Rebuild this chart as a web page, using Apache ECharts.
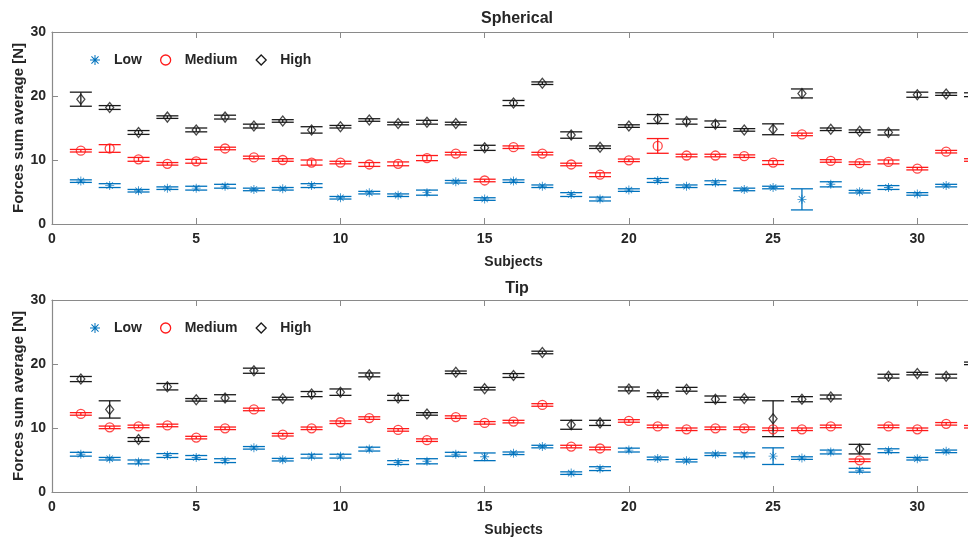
<!DOCTYPE html>
<html>
<head>
<meta charset="utf-8">
<script src="https://cdn.jsdelivr.net/npm/echarts@6/dist/echarts.min.js"></script>
<style>
  html, body { margin: 0; padding: 0; background: #fff; }
  #chart { width: 968px; height: 538px; }
</style>
</head>
<body>
<div id="chart"></div>
<script>
// subjects 1..32 (the last one is cut off by the right edge)
const subjects = [1,2,3,4,5,6,7,8,9,10,11,12,13,14,15,16,17,18,19,20,21,22,23,24,25,26,27,28,29,30,31,32];

// Spherical grasp
const sphLow  = [6.7,6.0,5.2,5.6,5.6,5.9,5.4,5.5,6.0,4.1,4.9,4.5,4.9,6.6,3.9,6.7,5.9,4.6,3.9,5.3,6.8,5.9,6.45,5.4,5.7,3.85,6.2,5.05,5.7,4.7,6.0,null];
const sphLowErr = [0.2,0.3,0.2,0.2,0.3,0.3,0.2,0.2,0.3,0.2,0.2,0.2,0.4,0.2,0.2,0.2,0.2,0.3,0.3,0.2,0.3,0.2,0.3,0.2,0.2,1.65,0.4,0.2,0.3,0.2,0.2,null];
const sphMed  = [11.45,11.8,10.1,9.4,9.8,11.8,10.4,10.0,9.6,9.6,9.3,9.4,10.3,11.0,6.8,12.0,11.0,9.3,7.7,9.95,12.2,10.7,10.7,10.6,9.6,14.0,9.85,9.5,9.7,8.65,11.3,10.0];
const sphMedErr = [0.2,0.6,0.3,0.2,0.3,0.2,0.2,0.2,0.4,0.2,0.3,0.3,0.4,0.2,0.2,0.2,0.2,0.2,0.3,0.2,1.15,0.2,0.2,0.2,0.3,0.2,0.2,0.2,0.3,0.2,0.2,0.2];
const sphHigh = [19.5,18.2,14.3,16.7,14.7,16.7,15.3,16.1,14.7,15.2,16.25,15.7,15.9,15.7,11.9,18.9,22.0,13.9,12.0,15.3,16.4,16.0,15.6,14.7,14.8,20.4,14.8,14.5,14.3,20.2,20.3,20.2];
const sphHighErr = [1.1,0.3,0.3,0.2,0.3,0.3,0.3,0.2,0.5,0.2,0.2,0.2,0.3,0.2,0.4,0.4,0.2,0.5,0.2,0.2,0.7,0.4,0.5,0.2,0.85,0.7,0.2,0.2,0.4,0.4,0.2,0.3];

// Tip grasp
const tipLow  = [5.9,5.2,4.7,5.7,5.4,4.9,6.9,5.05,5.6,5.6,6.7,4.6,4.8,5.9,5.5,6.05,7.1,2.95,3.65,6.55,5.25,4.9,5.9,5.8,5.6,5.3,6.25,3.4,6.45,5.2,6.35,null];
const tipLowErr = [0.3,0.2,0.3,0.3,0.3,0.3,0.2,0.2,0.3,0.3,0.3,0.3,0.4,0.3,0.6,0.2,0.2,0.2,0.3,0.3,0.2,0.2,0.2,0.3,1.3,0.2,0.3,0.3,0.3,0.2,0.2,null];
const tipMed  = [12.2,10.1,10.25,10.4,8.5,9.95,12.9,8.95,9.95,10.9,11.55,9.7,8.1,11.7,10.8,11.0,13.6,7.1,6.8,11.1,10.25,9.8,9.95,9.95,9.8,9.8,10.25,4.95,10.25,9.8,10.65,10.2];
const tipMedErr = [0.2,0.2,0.2,0.2,0.2,0.2,0.2,0.2,0.2,0.2,0.2,0.2,0.2,0.2,0.2,0.2,0.2,0.2,0.2,0.2,0.2,0.2,0.2,0.2,0.2,0.2,0.2,0.2,0.2,0.2,0.2,0.2];
const tipHigh = [17.65,12.9,8.2,16.45,14.4,14.7,18.95,14.6,15.3,15.6,18.3,14.7,12.2,18.7,16.15,18.2,21.8,10.5,10.8,16.1,15.2,16.05,14.5,14.6,11.45,14.5,14.85,6.7,18.1,18.5,18.1,20.1];
const tipHighErr = [0.4,1.35,0.3,0.5,0.2,0.5,0.4,0.2,0.4,0.5,0.3,0.4,0.2,0.2,0.2,0.3,0.2,0.7,0.4,0.3,0.3,0.3,0.5,0.2,2.8,0.4,0.3,0.75,0.3,0.2,0.3,0.2];

const groups = ['Low', 'Medium', 'High'];
const colors = { Low: '#0072BD', Medium: '#FF1A1A', High: '#1a1a1a' };
const asterisk = 'path://M4.5 0L5.5 0L5.5 10L4.5 10Z M0 4.5L10 4.5L10 5.5L0 5.5Z M1.1 1.8L1.8 1.1L8.9 8.2L8.2 8.9Z M8.2 1.1L8.9 1.8L1.8 8.9L1.1 8.2Z';
const symbols = { Low: asterisk, Medium: 'circle', High: 'diamond' };
const sizes = { Low: [9, 9], Medium: [9, 9], High: [8, 10] };

const font = 'Liberation Sans, Arial, sans-serif';
const textColor = '#262626';
const axisGray = '#8a8a8a';

function pairs(means, errs) {
  return subjects.map((s, i) => means[i] == null ? [s, null, null] : [s, means[i], errs[i]]);
}

function errorRender(color) {
  return function (params, api) {
    const x = api.value(0), y = api.value(1), e = api.value(2);
    if (y == null || isNaN(y)) return;
    const top = api.coord([x, y + e]);
    const bot = api.coord([x, y - e]);
    const hw = 11;
    const style = { stroke: color, lineWidth: 1.3 };
    return {
      type: 'group',
      children: [
        { type: 'line', shape: { x1: top[0], y1: top[1], x2: bot[0], y2: bot[1] }, style: style },
        { type: 'line', shape: { x1: top[0] - hw, y1: top[1], x2: top[0] + hw, y2: top[1] }, style: style },
        { type: 'line', shape: { x1: bot[0] - hw, y1: bot[1], x2: bot[0] + hw, y2: bot[1] }, style: style }
      ]
    };
  };
}

function seriesFor(gridIdx, name, means, errs) {
  const c = colors[name];
  return [
    {
      name: name, type: 'custom', xAxisIndex: gridIdx * 2, yAxisIndex: gridIdx,
      renderItem: errorRender(c), data: pairs(means, errs), silent: true, z: 2
    },
    {
      name: name, type: 'scatter', xAxisIndex: gridIdx * 2, yAxisIndex: gridIdx,
      symbol: symbols[name], symbolSize: sizes[name],
      itemStyle: name === 'Low'
        ? { color: c }
        : { color: 'rgba(255,255,255,0)', borderColor: c, borderWidth: 1.3 },
      data: pairs(means, errs).map(p => [p[0], p[1]]), z: 3
    }
  ];
}

// the figure is cropped on the right: x = 32 lies just past the canvas edge
const grids = [
  { left: 52, right: -7, top: 32, height: 192, outerBoundsMode: 'none', containLabel: false },
  { left: 52, right: -7, top: 300, height: 192, outerBoundsMode: 'none', containLabel: false }
];

const xAxes = [];
const yAxes = [];
grids.forEach((g, i) => {
  xAxes.push({
    type: 'value', gridIndex: i, min: 0, max: 32, interval: 5,
    name: 'Subjects', nameLocation: 'middle', nameGap: 31, nameMoveOverlap: false,
    nameTextStyle: { fontFamily: font, fontWeight: 'bold', fontSize: 14, color: textColor },
    axisLine: { show: true, lineStyle: { color: axisGray, width: 1.2 } },
    axisTick: { show: true, inside: true, length: 6, lineStyle: { color: axisGray } },
    axisLabel: {
      margin: 8, fontFamily: font, fontWeight: 'bold', fontSize: 14, color: textColor,
      formatter: v => (v % 5 === 0 ? String(v) : '')
    },
    splitLine: { show: false }
  });
  xAxes.push({
    type: 'value', gridIndex: i, position: 'top', min: 0, max: 32, interval: 5,
    axisLine: { show: true, lineStyle: { color: axisGray, width: 1.2 } },
    axisTick: { show: true, inside: true, length: 6, lineStyle: { color: axisGray } },
    axisLabel: { show: false },
    splitLine: { show: false }
  });
  yAxes.push({
    type: 'value', gridIndex: i, min: 0, max: 30, interval: 10,
    name: 'Forces sum average [N]', nameLocation: 'middle', nameGap: 26, nameMoveOverlap: false,
    nameTextStyle: { fontFamily: font, fontWeight: 'bold', fontSize: 15, color: textColor },
    axisLine: { show: true, lineStyle: { color: axisGray, width: 1.2 } },
    axisTick: { show: true, inside: true, length: 6, lineStyle: { color: axisGray } },
    axisLabel: { margin: 6, fontFamily: font, fontWeight: 'bold', fontSize: 14, color: textColor },
    splitLine: { show: false }
  });
});

const legendData = groups.map(n => ({
  name: n,
  icon: symbols[n],
  itemStyle: n === 'Low'
    ? { color: colors[n] }
    : { color: 'rgba(255,255,255,0)', borderColor: colors[n], borderWidth: 1.3 }
}));

function legendAt(top) {
  return {
    data: legendData, left: 85, top: top, orient: 'horizontal',
    itemWidth: 10, itemHeight: 10, itemGap: 18,
    selectedMode: false,
    textStyle: { fontFamily: font, fontWeight: 'bold', fontSize: 14, color: textColor, padding: [0, 0, 0, 9] }
  };
}

const option = {
  animation: false,
  backgroundColor: '#fff',
  title: [
    { text: 'Spherical', left: 512, top: 6, textAlign: 'center',
      textStyle: { fontFamily: font, fontWeight: 'bold', fontSize: 16, color: textColor } },
    { text: 'Tip', left: 512, top: 276, textAlign: 'center',
      textStyle: { fontFamily: font, fontWeight: 'bold', fontSize: 16, color: textColor } }
  ],
  legend: [legendAt(48), legendAt(316)],
  grid: grids,
  xAxis: xAxes,
  yAxis: yAxes,
  series: [].concat(
    seriesFor(0, 'Low', sphLow, sphLowErr),
    seriesFor(0, 'Medium', sphMed, sphMedErr),
    seriesFor(0, 'High', sphHigh, sphHighErr),
    seriesFor(1, 'Low', tipLow, tipLowErr),
    seriesFor(1, 'Medium', tipMed, tipMedErr),
    seriesFor(1, 'High', tipHigh, tipHighErr)
  )
};

const chart = echarts.init(document.getElementById('chart'));
chart.setOption(option);
</script>
</body>
</html>
